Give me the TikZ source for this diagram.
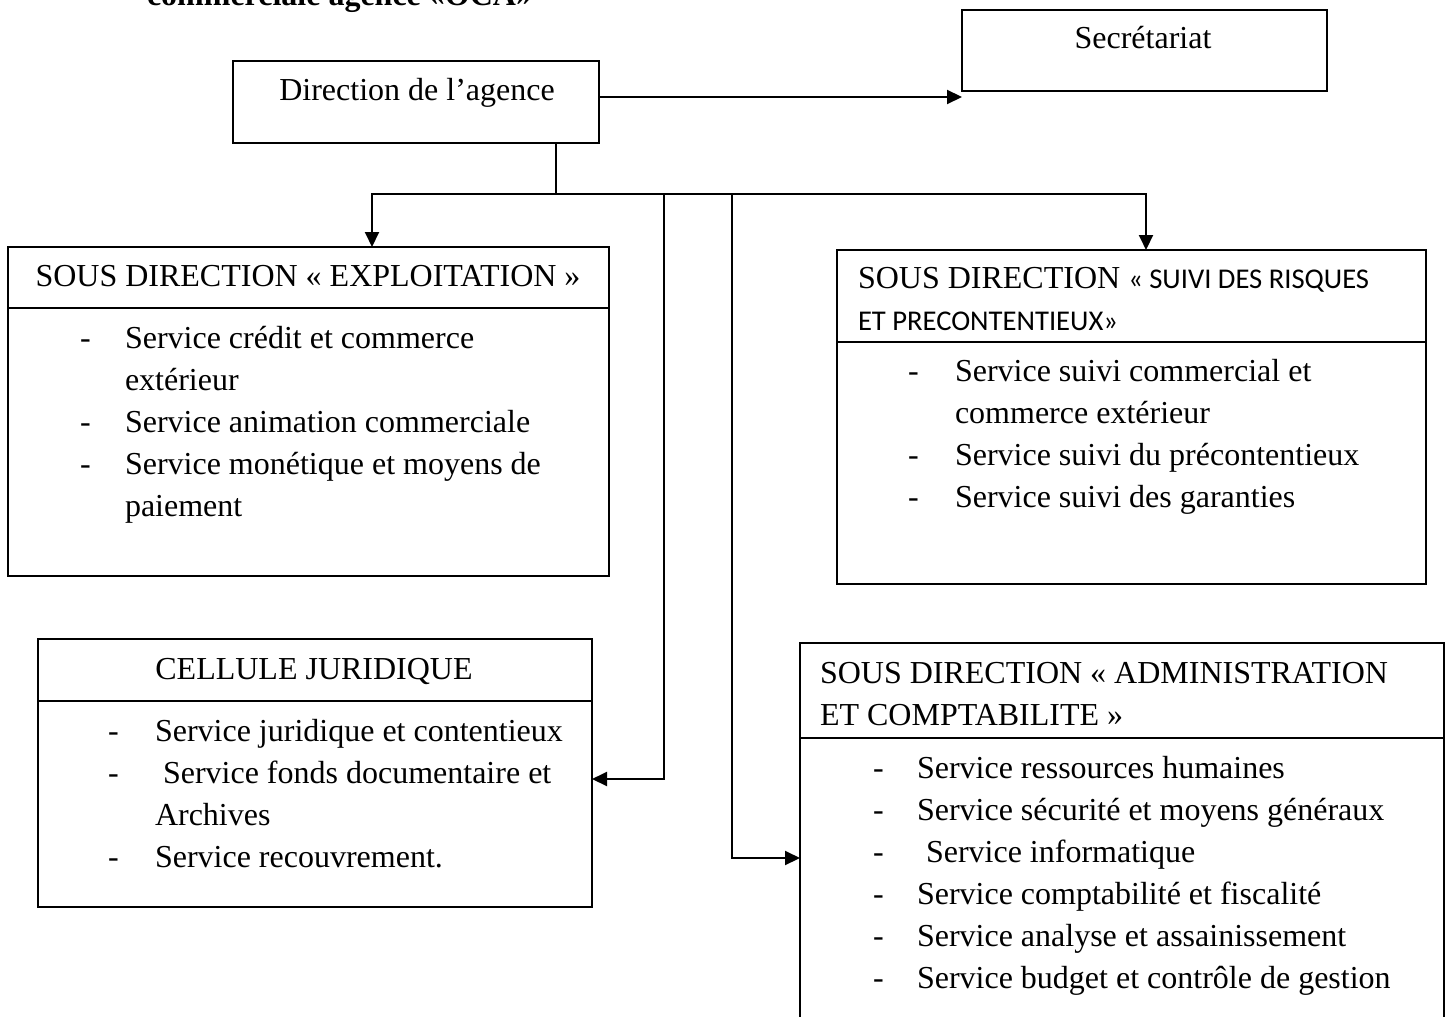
\documentclass[tikz,border=0pt]{standalone}
\usepackage{fontspec}
\setmainfont{Liberation Serif}
\newfontfamily\calib{Carlito}
\usetikzlibrary{arrows.meta,calc}
\tikzset{
  box/.style={draw, line width=0.75pt, anchor=north west, inner sep=0pt, outer sep=0pt},
  divline/.style={line width=0.75pt},
  conn/.style={line width=1pt},
  arr/.style={line width=1pt, -{Triangle[length=7.5pt,width=7pt]}},
  txt/.style={inner sep=0pt, outer sep=0pt, anchor=base west, font=\fontsize{16}{19}\selectfont},
  ctxt/.style={txt, anchor=base},
}
\begin{document}
\begin{tikzpicture}[x=0.5pt,y=-0.5pt]
\clip (0,0) rectangle (1449,1016);
\fill[white] (0,0) rectangle (1449,1016);

% cropped title
\node[txt, font=\fontsize{16}{19}\selectfont\bfseries] (title) at (147,6) {commerciale agence «OCA»};

% boxes
\node[box, minimum width=182.5pt, minimum height=40.5pt] (sec) at (962,10) {};
\node[box, minimum width=183pt, minimum height=41pt] (dir) at (233,61) {};
\node[box, minimum width=300.5pt, minimum height=164.5pt] (exp) at (8,247) {};
\node[box, minimum width=294.5pt, minimum height=167pt] (sui) at (837,250) {};
\node[box, minimum width=277pt, minimum height=134pt] (cel) at (38,639) {};
\node[box, minimum width=322pt, minimum height=210pt] (adm) at (800,643) {};

% dividers
\draw[divline] ([yshift=-30.5pt]exp.north west) -- ([yshift=-30.5pt]exp.north east);
\draw[divline] ([yshift=-46pt]sui.north west) -- ([yshift=-46pt]sui.north east);
\draw[divline] ([yshift=-31pt]cel.north west) -- ([yshift=-31pt]cel.north east);
\draw[divline] ([yshift=-47.5pt]adm.north west) -- ([yshift=-47.5pt]adm.north east);

% box texts
\node[ctxt] (sect) at (1143,49) {Secrétariat};
\node[ctxt] (dirt) at (417,101) {Direction de l’agence};

\node[ctxt] (exph) at (308,286) {SOUS DIRECTION «~EXPLOITATION~»};
\node[txt] (expd1) at (80,348) {-};
\node[txt] (exp1) at (125,348) {Service crédit et commerce};
\node[txt] (exp1b) at (125,390) {extérieur};
\node[txt] (expd2) at (80,432) {-};
\node[txt] (exp2) at (125,432) {Service animation commerciale};
\node[txt] (expd3) at (80,474) {-};
\node[txt] (exp3) at (125,474) {Service monétique et moyens de};
\node[txt] (exp3b) at (125,516) {paiement};

\node[txt] (suih1) at (858,288) {SOUS DIRECTION {\calib\fontsize{14.3}{17}\selectfont «~SUIVI DES RISQUES}};
\node[txt, font=\calib\fontsize{14.3}{17}\selectfont] (suih2) at (858,330) {ET PRECONTENTIEUX»};
\node[txt] (suid1) at (908,381) {-};
\node[txt] (sui1) at (955,381) {Service suivi commercial et};
\node[txt] (sui1b) at (955,423) {commerce extérieur};
\node[txt] (suid2) at (908,465) {-};
\node[txt] (sui2) at (955,465) {Service suivi du précontentieux};
\node[txt] (suid3) at (908,507) {-};
\node[txt] (sui3) at (955,507) {Service suivi des garanties};

\node[ctxt] (celh) at (314,679) {CELLULE JURIDIQUE};
\node[txt] (celd1) at (108,741) {-};
\node[txt] (cel1) at (155,741) {Service juridique et contentieux};
\node[txt] (celd2) at (108,783) {-};
\node[txt] (cel2) at (163,783) {Service fonds documentaire et};
\node[txt] (cel2b) at (155,825) {Archives};
\node[txt] (celd3) at (108,867) {-};
\node[txt] (cel3) at (155,867) {Service recouvrement.};

\node[txt] (admh1) at (820,683) {SOUS DIRECTION «~ADMINISTRATION};
\node[txt] (admh2) at (820,725) {ET COMPTABILITE~»};
\node[txt] (admd1) at (873,778) {-};
\node[txt] (adm1) at (917,778) {Service ressources humaines};
\node[txt] (admd2) at (873,820) {-};
\node[txt] (adm2) at (917,820) {Service sécurité et moyens généraux};
\node[txt] (admd3) at (873,862) {-};
\node[txt] (adm3) at (926,862) {Service informatique};
\node[txt] (admd4) at (873,904) {-};
\node[txt] (adm4) at (917,904) {Service comptabilité et fiscalité};
\node[txt] (admd5) at (873,946) {-};
\node[txt] (adm5) at (917,946) {Service analyse et assainissement};
\node[txt] (admd6) at (873,988) {-};
\node[txt] (adm6) at (917,988) {Service budget et contrôle de gestion};

% connector coordinates
\coordinate (bus) at (556,194);
\coordinate (xE) at (372,0);
\coordinate (xS) at (1146,0);
\coordinate (xC) at (664,194);
\coordinate (xA) at (732,194);
\coordinate (yC) at (0,779);
\coordinate (yA) at (0,858);
\coordinate (ySec) at (0,97);

% connectors
\draw[arr] (dir.east |- ySec) -- (sec.west |- ySec);
\draw[conn] (bus |- dir.south) -- (bus);
\draw[arr] (bus) -| (xE |- exp.north);
\draw[arr] (bus) -| (xS |- sui.north);
\draw[arr] (xC) |- (cel.east |- yC);
\draw[arr] (xA) |- (adm.west |- yA);
\end{tikzpicture}
\end{document}
